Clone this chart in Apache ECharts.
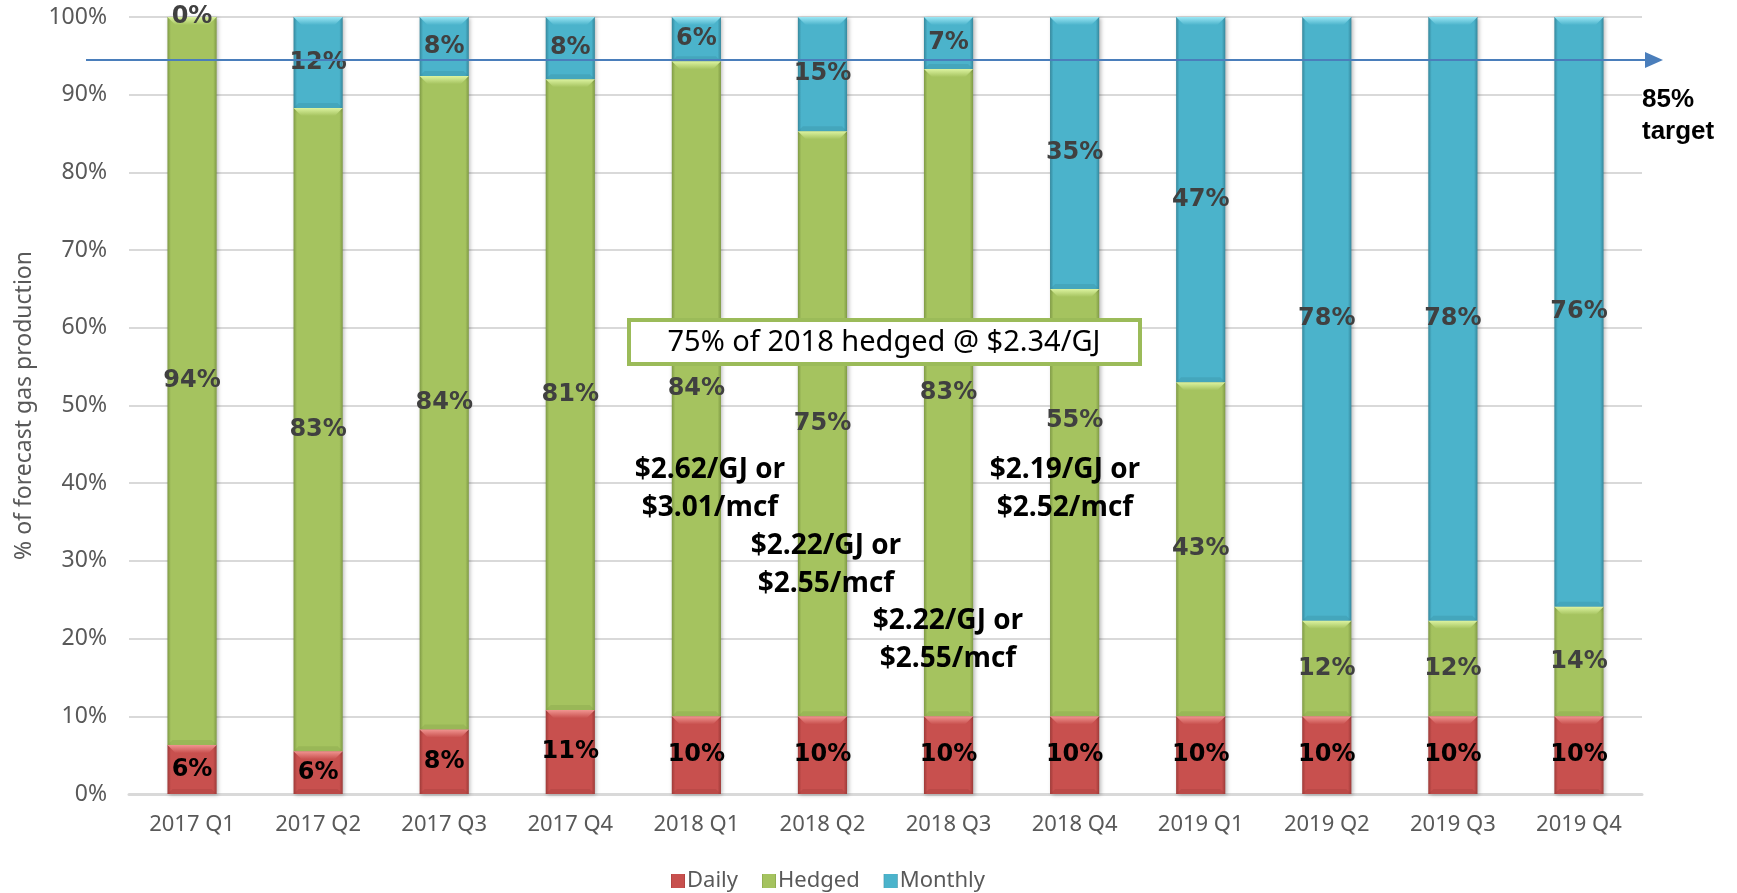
<!DOCTYPE html>
<html>
<head>
<meta charset="utf-8">
<title>Gas production hedging by quarter</title>
<script src="https://cdn.jsdelivr.net/npm/echarts@6/dist/echarts.min.js"></script>
<style>
  html, body { margin: 0; padding: 0; background: #ffffff; }
  #chart { width: 1737px; height: 893px; }
</style>
</head>
<body>
<div id="chart"></div>
<script>
// Quarters on the x axis
const categories = ['2017 Q1', '2017 Q2', '2017 Q3', '2017 Q4',
                    '2018 Q1', '2018 Q2', '2018 Q3', '2018 Q4',
                    '2019 Q1', '2019 Q2', '2019 Q3', '2019 Q4'];

// Share of forecast gas production (%) per pricing bucket
const daily   = [6.3, 5.5, 8.3, 10.8, 10, 10, 10, 10, 10, 10, 10, 10];
const hedged  = [93.7, 82.8, 84.1, 81.2, 84.3, 75.3, 83.3, 55, 43, 12.3, 12.3, 14.1];
const monthly = [0, 11.7, 7.6, 8.0, 5.7, 14.7, 6.7, 35, 47, 77.7, 77.7, 75.9];

// Y axis ticks (percent)
const yTicks = { min: 0, max: 100, step: 10 };

// Hedge price notes and the summary box text
const priceNotes = [
  ['$2.62/GJ or', '$3.01/mcf'],
  ['$2.22/GJ or', '$2.55/mcf'],
  ['$2.22/GJ or', '$2.55/mcf'],
  ['$2.19/GJ or', '$2.52/mcf']
];
const summaryText = '75% of 2018 hedged @ $2.34/GJ';
const targetText = ['85%', 'target'];

const palette = {
  Daily:   { base: '#c8504e', edge: '#9e3a38', light: '#f09490', text: '#000000' },
  Hedged:  { base: '#a5c35f', edge: '#7f9a45', light: '#dcf3a0', text: '#404040' },
  Monthly: { base: '#4bb3cb', edge: '#35879c', light: '#9ae6f4', text: '#404040' }
};

const LG = echarts.graphic.LinearGradient;
function barFill(c) {
  return new LG(0, 0, 1, 0, [
    { offset: 0, color: c.edge },
    { offset: 0.07, color: c.base },
    { offset: 0.93, color: c.base },
    { offset: 1, color: c.edge }
  ]);
}

const BAR_RATIO = 0.39;
const LABEL_FONT = 'bold 24px "DejaVu Sans"';

// label lifted clear of the price note in 2018 Q4 (pixels)
const labelLift = { Hedged: { 7: -82 } };

function barSeries(name, values) {
  return {
    name: name,
    type: 'bar',
    stack: 'total',
    barWidth: (BAR_RATIO * 100) + '%',
    data: values,
    z: 2,
    itemStyle: {
      color: barFill(palette[name]),
      shadowColor: 'rgba(0,0,0,0.28)',
      shadowBlur: 4,
      shadowOffsetX: 1.5,
      shadowOffsetY: 1
    },
    label: { show: false },
    emphasis: { disabled: true }
  };
}

// Bevel highlights on each stacked segment plus its percentage label
const overlaySeries = {
  type: 'custom',
  silent: true,
  z: 3,
  data: categories.map((c, i) => [i, 100]),
  renderItem: function (params, api) {
    const idx = api.value(0);
    const w = api.size([1, 0])[0] * BAR_RATIO;
    const x = api.coord([idx, 0])[0];
    const d = daily[idx], h = hedged[idx], m = monthly[idx];
    const segs = [
      ['Daily', 0, d, d],
      ['Hedged', d, d + h, h],
      ['Monthly', d + h, d + h + m, m]
    ];
    const shapes = [];
    const texts = [];
    segs.forEach(s => {
      const c = palette[s[0]];
      const yTop = api.coord([idx, s[2]])[1];
      const yBot = api.coord([idx, s[1]])[1];
      const ht = yBot - yTop;
      if (ht >= 2) {
        const b = Math.min(8, ht / 2);
        shapes.push({
          type: 'polygon',
          shape: { points: [[x - w / 2, yTop], [x + w / 2, yTop], [x + w / 2 - b, yTop + b], [x - w / 2 + b, yTop + b]] },
          style: { fill: new LG(0, 0, 0, 1, [{ offset: 0, color: c.light }, { offset: 1, color: c.base }]) }
        });
        const e = Math.min(5, ht / 3);
        shapes.push({
          type: 'polygon',
          shape: { points: [[x - w / 2, yBot], [x + w / 2, yBot], [x + w / 2 - e, yBot - e], [x - w / 2 + e, yBot - e]] },
          style: { fill: c.edge, opacity: 0.3 }
        });
      }
      const lift = (labelLift[s[0]] && labelLift[s[0]][idx]) || 0;
      texts.push({
        type: 'text',
        x: x,
        y: (yTop + yBot) / 2 + lift,
        style: {
          text: Math.round(s[3]) + '%',
          font: LABEL_FONT,
          fill: c.text,
          align: 'center',
          verticalAlign: 'middle',
          textAlign: 'center',
          textVerticalAlign: 'middle'
        }
      });
    });
    return { type: 'group', children: shapes.concat(texts) };
  }
};

const chart = echarts.init(document.getElementById('chart'), null, { renderer: 'canvas' });

const noteStyle = {
  fontFamily: 'Open Sans',
  fontWeight: 'bold',
  fontSize: 28,
  lineHeight: 38,
  fill: '#000000',
  textAlign: 'center',
  textVerticalAlign: 'middle'
};
const notePos = [[710, 489], [826, 565], [948, 640], [1065, 489]];

const graphics = [
  // target arrow
  { type: 'line', shape: { x1: 86, y1: 60, x2: 1648, y2: 60 }, style: { stroke: '#4a7ebb', lineWidth: 2 }, z: 50 },
  { type: 'polygon', shape: { points: [[1645, 52], [1663, 60], [1645, 68]] }, style: { fill: '#4a7ebb' }, z: 50 },
  { type: 'text', left: 1642, top: 84, style: { text: targetText.join('\n'), font: 'bold 26px "Liberation Sans"', lineHeight: 32, fill: '#000' }, z: 50 },
  // summary box
  { type: 'rect', shape: { x: 629, y: 320, width: 511, height: 44 }, style: { fill: '#ffffff', stroke: '#9bbb59', lineWidth: 4 }, z: 50 },
  { type: 'text', x: 884, y: 343, style: { text: summaryText, fontFamily: 'Noto Sans', fontSize: 29, fill: '#000', textAlign: 'center', textVerticalAlign: 'middle' }, z: 51 }
];
priceNotes.forEach((n, i) => {
  graphics.push({ type: 'text', x: notePos[i][0], y: notePos[i][1], style: Object.assign({ text: n.join('\n') }, noteStyle), z: 50 });
});

chart.setOption({
  animation: false,
  backgroundColor: '#ffffff',
  grid: { left: 129, right: 95, top: 17, bottom: 99 },
  legend: {
    data: ['Daily', 'Hedged', 'Monthly'],
    left: 666,
    top: 865,
    itemWidth: 14,
    itemHeight: 14,
    itemGap: 24,
    icon: 'rect',
    textStyle: { fontFamily: 'Noto Sans', fontSize: 22, color: '#595959', padding: [0, 0, 0, -3] }
  },
  xAxis: {
    type: 'category',
    data: categories,
    axisLine: { lineStyle: { color: '#d9d9d9', width: 3 } },
    axisTick: { show: false },
    axisLabel: { fontFamily: 'Noto Sans', fontSize: 22, color: '#595959', margin: 20 }
  },
  yAxis: {
    type: 'value',
    min: yTicks.min,
    max: yTicks.max,
    interval: yTicks.step,
    name: '% of forecast gas production',
    nameLocation: 'middle',
    nameGap: 93,
    nameTextStyle: { fontFamily: 'Noto Sans', fontSize: 23, color: '#595959' },
    axisLine: { show: false },
    axisTick: { show: false },
    axisLabel: { formatter: '{value}%', fontFamily: 'Noto Sans', fontSize: 23, color: '#595959', margin: 22 },
    splitLine: { lineStyle: { color: '#d9d9d9', width: 2 } }
  },
  series: [
    barSeries('Daily', daily),
    barSeries('Hedged', hedged),
    barSeries('Monthly', monthly),
    overlaySeries
  ],
  graphic: graphics
});
</script>
</body>
</html>
